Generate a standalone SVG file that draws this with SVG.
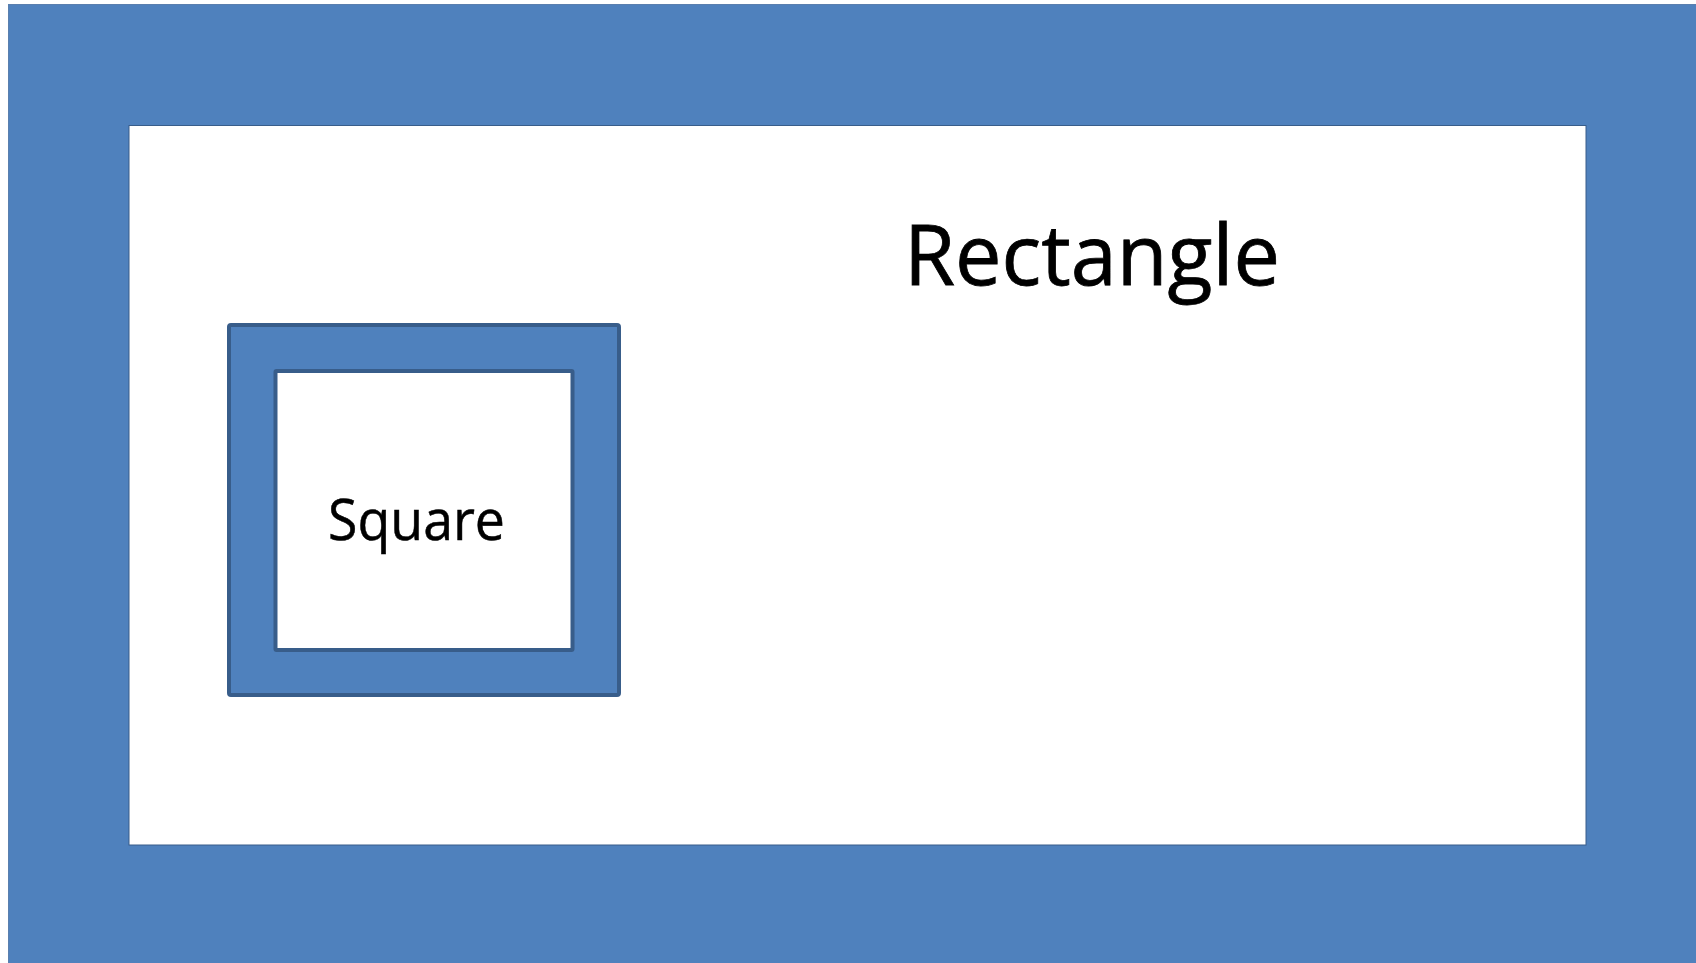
<svg xmlns="http://www.w3.org/2000/svg" width="1696" height="963" viewBox="0 0 1696 963">
<style>
.blue{fill:#4f81bd}
.txt{font-family:"Open Sans","Liberation Sans",sans-serif;fill:#000}
</style>
<rect width="1696" height="963" fill="#ffffff"/>
<g id="rectangle">
<rect class="blue" x="8.5" y="4.5" width="1700" height="970" stroke="#5a7fae" stroke-width="1"/>
<rect x="129" y="125.5" width="1457" height="719.5" fill="#ffffff" stroke="#385d8a" stroke-width="1"/>
<text class="txt" x="904" y="285" font-size="85" textLength="376" lengthAdjust="spacingAndGlyphs" stroke="#000" stroke-width="0.8">Rectangle</text>
</g>
<g id="square">
<rect class="blue" x="229" y="325" width="390" height="370" stroke="#385d8a" stroke-width="4" rx="2"/>
<rect x="275.5" y="371" width="297" height="279" fill="#ffffff" stroke="#385d8a" stroke-width="4" rx="1"/>
<text class="txt" x="328" y="540" font-size="57" textLength="177" lengthAdjust="spacingAndGlyphs" stroke="#000" stroke-width="0.5">Square</text>
</g>
</svg>
